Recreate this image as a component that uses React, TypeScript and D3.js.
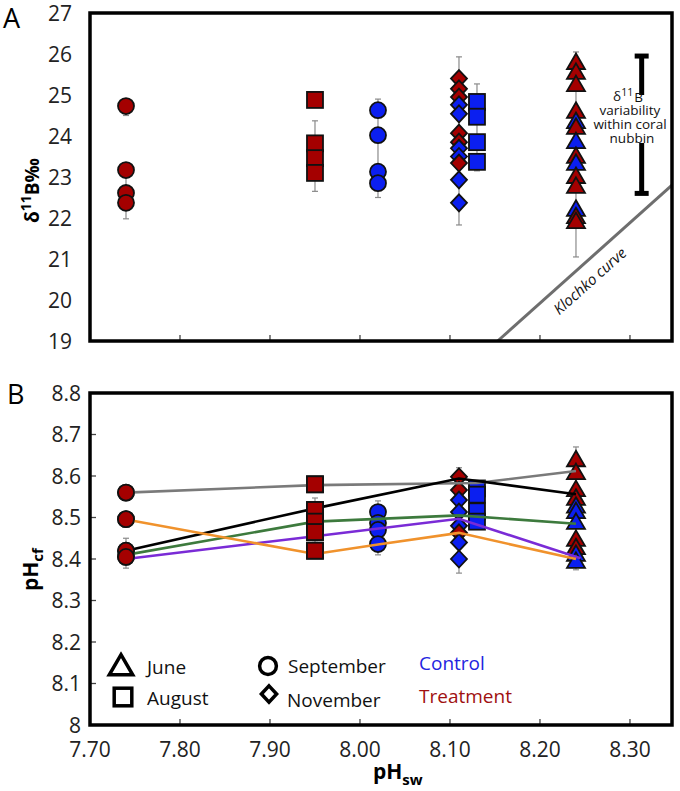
import React from 'react';
import * as d3 from 'd3';

// ---------- axes ----------
const xTicks = [7.7, 7.8, 7.9, 8.0, 8.1, 8.2, 8.3];
const xTickLabels = ['7.70', '7.80', '7.90', '8.00', '8.10', '8.20', '8.30'];
const yTicksA = [19, 20, 21, 22, 23, 24, 25, 26, 27];
const yTicksB = [8.0, 8.1, 8.2, 8.3, 8.4, 8.5, 8.6, 8.7, 8.8];
const yTickLabelsB = ['8', '8.1', '8.2', '8.3', '8.4', '8.5', '8.6', '8.7', '8.8'];

// ---------- pH_sw of each group ----------
const pHSepTreat = 7.74;
const pHAugTreat = 7.95;
const pHSepCtrl = 8.02;
const pHNov = 8.11;
const pHAugCtrl = 8.13;
const pHJune = 8.24;

// ---------- Panel A: δ11B (‰) ----------
const sepTreatA = [24.73, 23.17, 22.61, 22.37];
const augTreatA = [24.88, 23.82, 23.46, 23.1];
const sepCtrlA = [24.63, 24.02, 23.13, 22.85];
const novTreatA = [25.4, 25.15, 24.95, 24.07, 23.85, 23.34];
const novCtrlA = [24.76, 24.54, 23.7, 23.5, 22.93, 22.37];
const augCtrlA = [24.83, 24.47, 23.85, 23.37];
const juneTreatA = [25.78, 25.54, 25.24, 24.59, 24.2, 23.49, 23.0, 22.76, 22.02, 21.9];
const juneCtrlA = [24.34, 23.85, 23.32, 22.2];

// error bars [pH, low, high]
const errA = [
  [pHSepTreat, 24.5, 24.73], [pHSepTreat, 21.98, 23.17],
  [pHAugTreat, 22.65, 24.37],
  [pHSepCtrl, 22.5, 24.9],
  [pHNov, 21.83, 25.93],
  [pHAugCtrl, 23.15, 25.27],
  [pHJune, 21.05, 26.05],
];

const klochko = [[8.153, 19], [8.3467, 22.8]];
const variabilityBar = [22.6, 25.95];
const variabilityGap = [23.83, 25.0];
const variabilityX = 8.313;

// ---------- Panel B: pH_cf ----------
const sepTreatB = [8.56, 8.496, 8.42, 8.405];
const augTreatB = [8.58, 8.518, 8.49, 8.465, 8.42];
const sepCtrlB = [8.513, 8.487, 8.47, 8.436];
const novTreatB = [8.598, 8.566, 8.463];
const novCtrlB = [8.542, 8.513, 8.48, 8.44, 8.40];
const augCtrlB = [8.57, 8.555, 8.515, 8.49];
const juneTreatB = [8.638, 8.607, 8.566, 8.545, 8.446, 8.426];
const juneCtrlB = [8.526, 8.513, 8.487, 8.41, 8.393];

const errB = [
  [pHSepTreat, 8.378, 8.45],
  [pHAugTreat, 8.44, 8.547],
  [pHSepCtrl, 8.41, 8.54],
  [pHNov, 8.366, 8.62],
  [pHAugCtrl, 8.48, 8.58],
  [pHJune, 8.374, 8.67],
];

const lineGray = [[7.74, 8.56], [7.95, 8.578], [8.13, 8.583], [8.24, 8.612]];
const lineBlack = [[7.74, 8.42], [7.95, 8.522], [8.11, 8.594], [8.24, 8.556]];
const lineGreen = [[7.74, 8.41], [7.95, 8.49], [8.11, 8.505], [8.24, 8.485]];
const linePurple = [[7.74, 8.40], [7.95, 8.455], [8.11, 8.497], [8.245, 8.402]];
const lineOrange = [[7.74, 8.495], [7.95, 8.412], [8.02, 8.435], [8.11, 8.463], [8.24, 8.40]];

const varLabelLines = ['variability', 'within coral', 'nubbin'];

const RED = '#a40000';
const BLUE = '#0b1ff0';
const FONT = '"Open Sans", "DejaVu Sans", sans-serif';

const x = d3.scaleLinear().domain([7.7, 8.3467]).range([90, 672]);
const yA = d3.scaleLinear().domain([19, 27]).range([341, 13]);
const yB = d3.scaleLinear().domain([8, 8.8]).range([725, 393]);

type Shape = 'circle' | 'square' | 'triangle' | 'diamond';

function Marker({ shape, cx, cy, fill, stroke = '#111', sw = 1.8, s = 1 }:
  { shape: Shape; cx: number; cy: number; fill: string; stroke?: string; sw?: number; s?: number }) {
  if (shape === 'circle') return <circle cx={cx} cy={cy} r={8 * s} fill={fill} stroke={stroke} strokeWidth={sw} />;
  if (shape === 'square') return <rect x={cx - 8 * s} y={cy - 8 * s} width={16 * s} height={16 * s} fill={fill} stroke={stroke} strokeWidth={sw} />;
  if (shape === 'triangle') {
    const d = `M${cx},${cy - 9.5 * s}L${cx + 9 * s},${cy + 6 * s}L${cx - 9 * s},${cy + 6 * s}Z`;
    return <path d={d} fill={fill} stroke={stroke} strokeWidth={sw} strokeLinejoin="miter" />;
  }
  const d = `M${cx},${cy - 8.5 * s}L${cx + 8 * s},${cy}L${cx},${cy + 8.5 * s}L${cx - 8 * s},${cy}Z`;
  return <path d={d} fill={fill} stroke={stroke} strokeWidth={sw} />;
}

type Series = { shape: Shape; color: string; px: number; vals: number[] };

const seriesA: Series[] = [
  { shape: 'circle', color: RED, px: pHSepTreat, vals: sepTreatA },
  { shape: 'square', color: RED, px: pHAugTreat, vals: augTreatA },
  { shape: 'circle', color: BLUE, px: pHSepCtrl, vals: sepCtrlA },
  { shape: 'diamond', color: RED, px: pHNov, vals: novTreatA },
  { shape: 'diamond', color: BLUE, px: pHNov, vals: novCtrlA },
  { shape: 'square', color: BLUE, px: pHAugCtrl, vals: augCtrlA },
  { shape: 'triangle', color: RED, px: pHJune, vals: juneTreatA },
  { shape: 'triangle', color: BLUE, px: pHJune, vals: juneCtrlA },
];
const seriesB: Series[] = [
  { shape: 'circle', color: RED, px: pHSepTreat, vals: sepTreatB },
  { shape: 'square', color: RED, px: pHAugTreat, vals: augTreatB },
  { shape: 'circle', color: BLUE, px: pHSepCtrl, vals: sepCtrlB },
  { shape: 'diamond', color: RED, px: pHNov, vals: novTreatB },
  { shape: 'diamond', color: BLUE, px: pHNov, vals: novCtrlB },
  { shape: 'square', color: BLUE, px: pHAugCtrl, vals: augCtrlB },
  { shape: 'triangle', color: RED, px: pHJune, vals: juneTreatB },
  { shape: 'triangle', color: BLUE, px: pHJune, vals: juneCtrlB },
];

function interleave(series: Series[], y: (v: number) => number) {
  const pts: { shape: Shape; color: string; cx: number; cy: number; v: number; px: number }[] = [];
  series.forEach(s => s.vals.forEach(v => pts.push({ shape: s.shape, color: s.color, cx: x(s.px), cy: y(v), v, px: s.px })));
  pts.sort((a, b) => (a.px - b.px) || (b.v - a.v));
  return pts;
}

function ErrorBars({ data, y }: { data: number[][]; y: (v: number) => number }) {
  return (
    <g stroke="#8a8a8a" strokeWidth={1.2}>
      {data.map((e, i) => {
        const cx = x(e[0]);
        return (
          <g key={i}>
            <line x1={cx} x2={cx} y1={y(e[1])} y2={y(e[2])} />
            <line x1={cx - 3} x2={cx + 3} y1={y(e[1])} y2={y(e[1])} />
            <line x1={cx - 3} x2={cx + 3} y1={y(e[2])} y2={y(e[2])} />
          </g>
        );
      })}
    </g>
  );
}

export default function App() {
  const ptsA = interleave(seriesA, yA);
  const ptsB = interleave(seriesB, yB);
  const lineGen = d3.line<number[]>().x(d => x(d[0])).y(d => yB(d[1]));
  const lines: [number[][], string][] = [
    [lineGray, '#7a7a7a'],
    [lineBlack, '#000000'],
    [lineGreen, '#3d7a3d'],
    [linePurple, '#7a2bd6'],
    [lineOrange, '#f0922c'],
  ];

  // Klochko geometry
  const k0 = [x(klochko[0][0]), yA(klochko[0][1])];
  const k1 = [x(klochko[1][0]), yA(klochko[1][1])];
  const kdx = k1[0] - k0[0], kdy = k1[1] - k0[1];
  const klen = Math.hypot(kdx, kdy);
  const kang = Math.atan2(kdy, kdx) * 180 / Math.PI;
  const kt = 0.465;
  const nx = -kdy / klen, ny = kdx / klen;
  const ktx = k0[0] + kdx * kt + nx * 22;
  const kty = k0[1] + kdy * kt + ny * 22;

  const vx = x(variabilityX);
  const vTop = yA(variabilityBar[1]);
  const vBot = yA(variabilityBar[0]);
  const gTop = yA(variabilityGap[1]);
  const gBot = yA(variabilityGap[0]);
  const tx = x(8.3);

  const frameA = { l: x(7.7), r: x(8.3467), t: yA(27), b: yA(19) };
  const frameB = { l: x(7.7), r: x(8.3467), t: yB(8.8), b: yB(8.0) };

  return (
    <svg width={680} height={791} style={{ position: 'absolute', left: 0, top: 0, background: '#fff' }} fontFamily={FONT}>
      <rect width={680} height={791} fill="#fff" />
      {/* ===== Panel A ===== */}
      <text x={3} y={28} fontSize={27}>A</text>
      {yTicksA.map(t => (
        <text key={t} x={72} y={yA(t)} dy="0.36em" textAnchor="end" fontSize={21} fill="#222">{t}</text>
      ))}
      {xTicks.slice(1).map(t => (
        <line key={t} x1={x(t)} x2={x(t)} y1={frameA.b} y2={frameA.b - 6} stroke="#444" strokeWidth={1.3} />
      ))}
      <text transform={`translate(39,223) rotate(-90)`} fontSize={19} fontWeight="bold">
        δ<tspan fontSize={14} dy={-8}>11</tspan><tspan dy={8} fontSize={19}>B‰</tspan>
      </text>

      {/* Klochko curve */}
      <line x1={k0[0]} y1={k0[1]} x2={k1[0]} y2={k1[1]} stroke="#6e6e6e" strokeWidth={3} />
      <text transform={`translate(${ktx},${kty}) rotate(${kang})`} textAnchor="middle" fontSize={15} fontStyle="italic" fill="#111">Klochko curve</text>

      {/* variability bar (broken around its label) */}
      <g stroke="#000" strokeWidth={5}>
        <line x1={vx} x2={vx} y1={vTop} y2={gTop} />
        <line x1={vx} x2={vx} y1={gBot} y2={vBot} />
        <line x1={vx - 7} x2={vx + 7} y1={vTop} y2={vTop} />
        <line x1={vx - 7} x2={vx + 7} y1={vBot} y2={vBot} />
      </g>
      <g fontSize={13.5} textAnchor="middle" fill="#111">
        <text x={tx - 2} y={101}>δ<tspan fontSize={10.5} dy={-5}>11</tspan><tspan dx={1} dy={6} fontSize={13.5}>B</tspan></text>
        {varLabelLines.map((l, i) => (
          <text key={l} x={tx + (i === 2 ? 2 : 0)} y={115 + i * 14}>{l}</text>
        ))}
      </g>

      <ErrorBars data={errA} y={yA} />
      {ptsA.map((p, i) => <Marker key={i} shape={p.shape} cx={p.cx} cy={p.cy} fill={p.color} />)}

      <rect x={frameA.l} y={frameA.t} width={frameA.r - frameA.l} height={frameA.b - frameA.t} fill="none" stroke="#000" strokeWidth={3.5} />

      {/* ===== Panel B ===== */}
      <text x={7} y={404} fontSize={27}>B</text>
      {yTicksB.map((t, i) => (
        <text key={t} x={81} y={yB(t)} dy="0.36em" textAnchor="end" fontSize={21} fill="#222">{yTickLabelsB[i]}</text>
      ))}
      {yTicksB.slice(1, -1).map(t => (
        <line key={t} x1={frameB.l} x2={frameB.l + 6} y1={yB(t)} y2={yB(t)} stroke="#444" strokeWidth={1.3} />
      ))}
      {xTicks.slice(1).map(t => (
        <line key={t} x1={x(t)} x2={x(t)} y1={frameB.b} y2={frameB.b - 6} stroke="#444" strokeWidth={1.3} />
      ))}
      {xTicks.map((t, i) => (
        <text key={t} x={x(t)} y={757} textAnchor="middle" fontSize={21} fill="#222">{xTickLabels[i]}</text>
      ))}
      <text x={373} y={779} fontSize={21} fontWeight="bold">pH<tspan fontSize={15} dy={6}>sw</tspan></text>
      <text transform={`translate(38,591) rotate(-90)`} fontSize={21} fontWeight="bold">pH<tspan fontSize={15} dy={5}>cf</tspan></text>

      <ErrorBars data={errB} y={yB} />
      {ptsB.map((p, i) => <Marker key={i} shape={p.shape} cx={p.cx} cy={p.cy} fill={p.color} />)}
      {lines.map(([d, c], i) => (
        <path key={i} d={lineGen(d) || ''} fill="none" stroke={c} strokeWidth={2.6} />
      ))}
      {ptsB.filter(p => p.px === pHSepTreat || p.px === pHAugTreat).map((p, i) => (
        <Marker key={'r' + i} shape={p.shape} cx={p.cx} cy={p.cy} fill={p.color} />
      ))}

      {/* legend */}
      <Marker shape="triangle" cx={121} cy={667} fill="#fff" stroke="#000" sw={3.5} s={1.3} />
      <text x={147} y={674} fontSize={19} fill="#111">June</text>
      <Marker shape="square" cx={123} cy={697} fill="#fff" stroke="#000" sw={3.5} s={1.1} />
      <text x={147} y={705} fontSize={19} fill="#111">August</text>
      <Marker shape="circle" cx={268} cy={666} fill="#fff" stroke="#000" sw={3.5} s={1.05} />
      <text x={288} y={673} fontSize={19} fill="#111">September</text>
      <Marker shape="diamond" cx={269} cy={694} fill="#fff" stroke="#000" sw={3.5} s={0.95} />
      <text x={287} y={707} fontSize={19} fill="#111">November</text>
      <text x={419} y={670} fontSize={19} fill="#2424e0">Control</text>
      <text x={419} y={703} fontSize={19} fill="#a01010">Treatment</text>

      <rect x={frameB.l} y={frameB.t} width={frameB.r - frameB.l} height={frameB.b - frameB.t} fill="none" stroke="#000" strokeWidth={3.5} />
    </svg>
  );
}
